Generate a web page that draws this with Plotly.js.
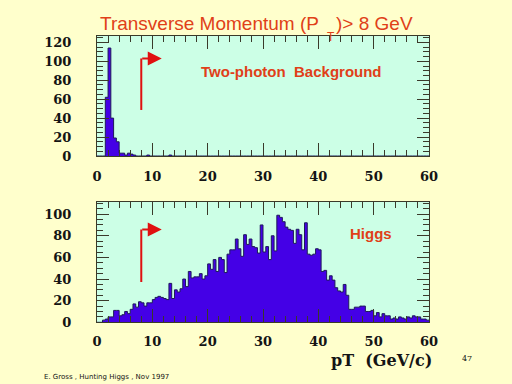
<!DOCTYPE html>
<html>
<head>
<meta charset="utf-8">
<script src="https://cdn.plot.ly/plotly-3.0.1.min.js"></script>
<style>html,body{margin:0;padding:0;background:#FFFFCC;}#chart{width:512px;height:384px;}</style>
</head>
<body>
<div id="chart"></div>
<script>
// ---- data (counts per 0.5 GeV bin, 0..60 GeV) ----
const binWidth = 0.5;
const bgCounts = [
  0,0,0,62,114,40,19,15,3,3, 1,3,2,1,0,0,0,0,1,0,
  0,0,0,0,0,0,1,0,0,0, 0,0,0,0,0,0,0,0,0,0,
  0,0,0,0,0,0,0,0,0,0, 0,0,0,0,0,0,0,0,0,0,
  0,0,0,0,0,0,0,0,0,0, 0,0,0,0,0,0,0,0,0,0,
  0,0,0,0,0,0,0,0,0,0, 0,0,0,0,0,0,0,0,0,0,
  0,0,0,0,0,0,0,0,0,0, 0,0,0,0,0,0,0,0,0,0
];
const higgsCounts = [
  0,0,2,3,5,5,11,11,6,7, 10,8,12,17,14,19,18,15,18,18,
  21,23,24,23,22,21,36,22,30,28, 31,40,33,47,41,42,42,45,40,43,
  54,49,58,47,60,58,46,63,67,67, 77,68,61,81,72,77,70,69,64,90,
  65,70,58,80,66,99,97,93,88,86, 85,73,86,81,67,92,63,62,63,68,
  67,47,48,39,43,39,32,29,28,35, 25,12,12,14,14,15,15,10,10,11,
  6,9,5,8,6,6,3,4,3,5, 4,3,5,4,6,5,5,3,3,2
];
const xTicks = [0,10,20,30,40,50,60];
const yTicksTop = [0,20,40,60,80,100,120];
const yTicksBottom = [0,20,40,60,80,100];
const cutValue = 8;
const titleMain = "Transverse Momentum (P";
const titleSub = "T";
const titleEnd = ")> 8 GeV";
const labelBg = "Two-photon\u00A0\u00A0Background";
const labelHiggs = "Higgs";
const xTitle = "pT\u00A0\u00A0(GeV/c)";
const pageNo = "47";
const footer = "E. Gross , Hunting Higgs , Nov 1997";

// ---- build step outlines from the arrays ----
function stepXY(counts){
  const x = [], y = [];
  for (let i = 0; i <= counts.length; i++){
    x.push(i*binWidth);
    y.push(i < counts.length ? counts[i] : counts[counts.length-1]);
  }
  return {x, y};
}
const s1 = stepXY(bgCounts), s2 = stepXY(higgsCounts);

const fillCol = '#4400E6', edgeCol = '#1E1A5A';
const traces = [
  {x:s1.x, y:s1.y, type:'scatter', mode:'lines', line:{shape:'hv', color:edgeCol, width:1}, fill:'tozeroy', fillcolor:fillCol, xaxis:'x', yaxis:'y', hoverinfo:'skip'},
  {x:s2.x, y:s2.y, type:'scatter', mode:'lines', line:{shape:'hv', color:edgeCol, width:1}, fill:'tozeroy', fillcolor:fillCol, xaxis:'x2', yaxis:'y2', hoverinfo:'skip'}
];

const W = 512, H = 384;
const px = v => v/W, py = v => 1 - v/H;
const axCol = '#3A3A2A';
const tickFont = {family:'DejaVu Serif', size:13, weight:'bold', color:'#141414'};
const red = '#E04018', arrowRed = '#E01010';

function xAxis(anchor, standoff){
  return {domain:[px(97), px(429)], anchor, range:[0,60], tickvals:xTicks, ticktext:xTicks.map(String),
    ticks:'inside', ticklen:13, tickwidth:1, tickcolor:axCol,
    minor:{dtick:2, tick0:0, ticks:'inside', ticklen:6, tickwidth:1, tickcolor:axCol},
    showline:true, linecolor:axCol, linewidth:1, mirror:'allticks', showgrid:false, zeroline:false,
    tickfont:tickFont, ticklabelstandoff:standoff, fixedrange:true};
}
function yAxis(anchor, dom, top, vals){
  return {domain:dom, anchor, range:[0, top], tickvals:vals, ticktext:vals.map(String),
    ticks:'inside', ticklen:12, tickwidth:1, tickcolor:axCol,
    minor:{dtick:5, tick0:0, ticks:'inside', ticklen:6, tickwidth:1, tickcolor:axCol},
    showline:true, linecolor:axCol, linewidth:1, mirror:'allticks', showgrid:false, zeroline:false,
    tickfont:tickFont, ticklabelstandoff:22, fixedrange:true};
}

const layout = {
  width:W, height:H, margin:{l:0,r:0,t:0,b:0},
  paper_bgcolor:'#FFFFCC', plot_bgcolor:'#CCFFE6', showlegend:false,
  xaxis: xAxis('y', 8),
  yaxis: yAxis('x', [py(156), py(36)], 126.7, yTicksTop),
  xaxis2: xAxis('y2', 7),
  yaxis2: yAxis('x2', [py(322.3), py(201.7)], 111.5, yTicksBottom),
  shapes:[
    {type:'line', xref:'x', yref:'y', x0:cutValue, x1:cutValue, y0:48.6, y1:103, line:{color:arrowRed, width:2}},
    {type:'line', xref:'x2', yref:'y2', x0:cutValue, x1:cutValue, y0:37.3, y1:85.8, line:{color:arrowRed, width:2}}
  ],
  annotations:[
    {xref:'x', yref:'y', x:11.7, y:103, ax:cutValue-0.1, ay:103, axref:'x', ayref:'y', showarrow:true, arrowhead:2, arrowsize:1.4, arrowwidth:2, arrowcolor:arrowRed, text:''},
    {xref:'x2', yref:'y2', x:11.7, y:85.8, ax:cutValue-0.1, ay:85.8, axref:'x2', ayref:'y2', showarrow:true, arrowhead:2, arrowsize:1.4, arrowwidth:2, arrowcolor:arrowRed, text:''},
    {xref:'paper', yref:'paper', x:px(321), y:py(23), xanchor:'right', yanchor:'middle', showarrow:false, text:titleMain, font:{family:'Liberation Sans', size:19, color:red}},
    {xref:'paper', yref:'paper', x:px(331), y:py(37), xanchor:'center', yanchor:'middle', showarrow:false, text:titleSub, font:{family:'Liberation Sans', size:12, color:red}},
    {xref:'paper', yref:'paper', x:px(334), y:py(23), xanchor:'left', yanchor:'middle', showarrow:false, text:titleEnd, font:{family:'Liberation Sans', size:19, color:red}},
    {xref:'paper', yref:'paper', x:px(291), y:py(71), xanchor:'center', yanchor:'middle', showarrow:false, text:labelBg, font:{family:'Liberation Sans', size:15, weight:'bold', color:red}},
    {xref:'paper', yref:'paper', x:px(371), y:py(233.5), xanchor:'center', yanchor:'middle', showarrow:false, text:labelHiggs, font:{family:'Liberation Sans', size:15, weight:'bold', color:red}},
    {xref:'paper', yref:'paper', x:px(381), y:py(360), xanchor:'center', yanchor:'middle', showarrow:false, text:xTitle, font:{family:'DejaVu Serif', size:16, weight:'bold', color:'#141414'}},
    {xref:'paper', yref:'paper', x:px(467), y:py(358), xanchor:'center', yanchor:'middle', showarrow:false, text:pageNo, font:{family:'DejaVu Serif', size:8, color:'#141414'}},
    {xref:'paper', yref:'paper', x:px(106), y:py(377), xanchor:'center', yanchor:'middle', showarrow:false, text:footer, font:{family:'DejaVu Sans', size:7, color:'#141414'}}
  ]
};

Plotly.newPlot('chart', traces, layout, {staticPlot:true, displayModeBar:false});
</script>
</body>
</html>
